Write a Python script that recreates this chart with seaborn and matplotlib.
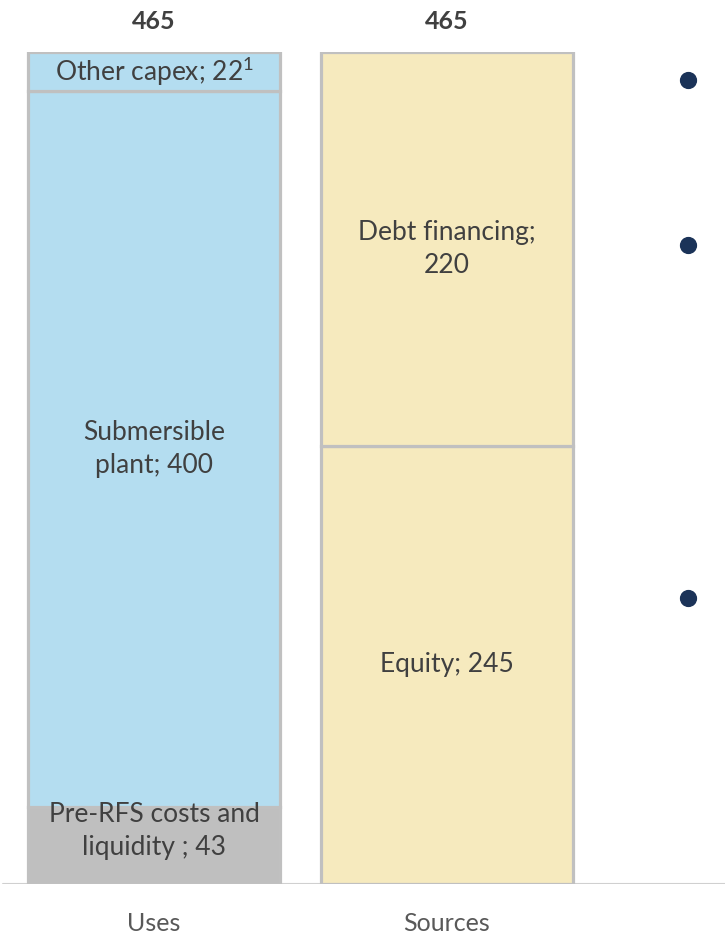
import numpy as np
import pandas as pd
import seaborn as sns
import matplotlib.pyplot as plt

# data
bars = ['Uses', 'Sources']
segments = ['Pre-RFS costs and\nliquidity ; 43', 'Submersible\nplant; 400', 'Other capex; 22$^{1}$',
            'Equity; 245', 'Debt financing;\n220']
seg_bar = ['Uses', 'Uses', 'Uses', 'Sources', 'Sources']
seg_values = [43, 400, 22, 245, 220]
seg_colors = ['#bfbfbf', '#b4ddf0', '#b4ddf0', '#f6eabe', '#f6eabe']
label_shift = [8, 0, 0, 0, 0]
totals = [465, 465]
bullet_y = [0.966, 0.768, 0.344]   # axes fraction

sns.set_theme(style='white')
plt.rcParams['font.family'] = ['Lato', 'DejaVu Sans']
plt.rcParams['mathtext.fontset'] = 'custom'
plt.rcParams['mathtext.rm'] = 'Lato'
plt.rcParams['mathtext.it'] = 'Lato'
plt.rcParams['mathtext.default'] = 'regular'

fig = plt.figure(figsize=(7.25, 9.36), dpi=100)
ax = fig.add_axes([0, 52 / 936, 1, 832 / 936])

df = pd.DataFrame({'bar': seg_bar, 'label': segments, 'value': seg_values,
                   'color': seg_colors, 'shift': label_shift})
df['bottom'] = df.groupby('bar')['value'].cumsum() - df['value']

for _, r in df.iterrows():
    sns.barplot(x=[r['bar']], y=[r['value']], bottom=r['bottom'], order=bars, ax=ax,
                color=r['color'], saturation=1, width=0.86, edgecolor='#c0c0c0',
                linewidth=2.3, zorder=2)
    ax.text(bars.index(r['bar']), r['bottom'] + r['value'] / 2 + r['shift'], r['label'],
            ha='center', va='center', fontsize=19, color='#404040', linespacing=1.4, zorder=3)

for i, t in enumerate(totals):
    ax.text(i, t + 17, str(t), ha='center', va='center', fontsize=18,
            fontweight='bold', color='#404040', clip_on=False)

ax.scatter([0.949] * len(bullet_y), bullet_y, transform=ax.transAxes, s=130,
           color='#1b3358', zorder=3, clip_on=False)

ax.set_xlim(-154 / 293, (725 - 154) / 293)
ax.set_ylim(0, 465)
ax.axhline(0, xmin=0.004, color='#d0d0d0', lw=1.5, zorder=1)
ax.set_xlabel('')
ax.set_ylabel('')
ax.set_yticks([])
ax.tick_params(axis='x', length=0, pad=20, labelsize=18, labelcolor='#595959')
sns.despine(ax=ax, left=True, bottom=True)

fig.savefig('out.png', dpi=100)
